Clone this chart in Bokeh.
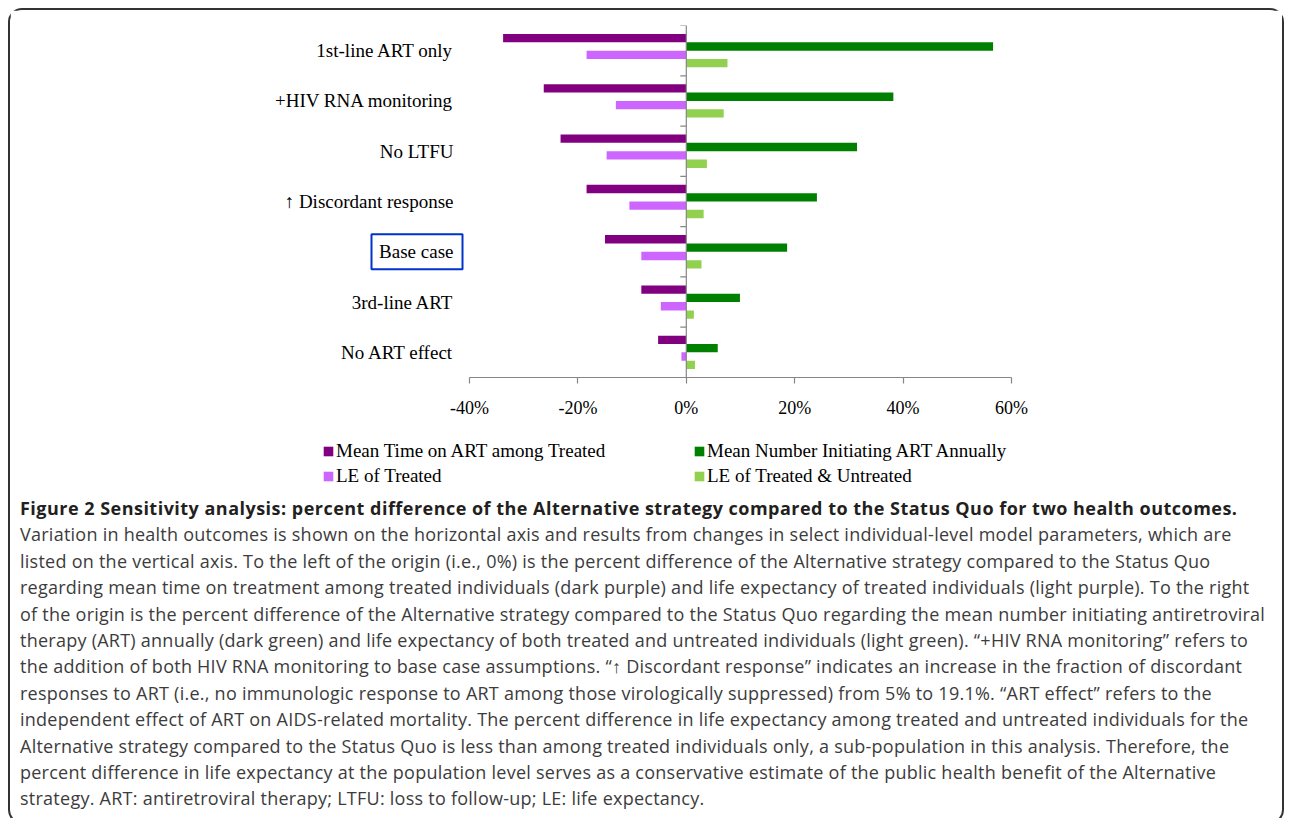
import numpy as np
from bokeh.plotting import figure
from bokeh.models import (FactorRange, Range1d, ColumnDataSource, FixedTicker, PrintfTickFormatter,
                          Span, Legend, LegendItem, BoxAnnotation, Div, Column)
from bokeh.transform import dodge
from bokeh.embed import file_html
from bokeh.resources import INLINE

categories = ["1st-line ART only", "+HIV RNA monitoring", "No LTFU", "\u2191 Discordant response",
              "Base case", "3rd-line ART", "No ART effect"]
mean_time_on_art = [-33.8, -26.3, -23.2, -18.4, -15.0, -8.3, -5.2]
mean_number_initiating = [56.6, 38.2, 31.5, 24.1, 18.6, 9.9, 5.8]
le_treated = [-18.4, -13.0, -14.7, -10.5, -8.3, -4.7, -0.9]
le_treated_untreated = [7.6, 6.9, 3.8, 3.2, 2.8, 1.4, 1.6]
x_ticks = [-40, -20, 0, 20, 40, 60]

series_names = ["Mean Time on ART among Treated", "Mean Number Initiating ART Annually",
                "LE of Treated", "LE of Treated & Untreated"]
colors = ["#800080", "#008000", "#CC66FF", "#92D050"]
value_cols = ["a", "b", "c", "d"]

SERIF = "Liberation Serif"
W = 1272

src = ColumnDataSource(dict(cat=categories, a=mean_time_on_art, b=mean_number_initiating,
                            c=le_treated, d=le_treated_untreated))

# frame spans the full canvas width; the -40%..60% axis sits at canvas x 459..1001
px_per_unit = 542 / (x_ticks[-1] - x_ticks[0])
x_start = x_ticks[0] - 459 / px_per_unit
x_end = x_start + W / px_per_unit

cats_bottom_up = categories[::-1]
p = figure(width=W, height=420, y_range=FactorRange(*cats_bottom_up, range_padding=0),
           x_range=Range1d(x_start, x_end), output_backend="svg", toolbar_location=None,
           min_border_left=0, min_border_right=0, min_border_top=15, min_border_bottom=53)
p.outline_line_color = None
p.xgrid.visible = False
p.ygrid.visible = False
p.background_fill_color = "white"

h = 0.166
offsets = [0.249, 0.083, -0.083, -0.249]
renderers = []
for col, off, color in zip(value_cols, offsets, colors):
    r = p.hbar(y=dodge("cat", off, range=p.y_range), left=0, right=col, height=h, source=src,
               fill_color=color, line_color=None)
    renderers.append(r)

# vertical axis line at origin
p.add_layout(Span(location=0, dimension="height", line_color="#868686", line_width=1.2))
# tick marks on the vertical axis at category boundaries
bounds = list(range(len(categories) + 1))
p.ray(x=[0] * len(bounds), y=bounds, length=6, length_units="screen", angle=np.pi,
      line_color="#868686", line_width=1.2)

# x axis
xa = p.xaxis[0]
xa.bounds = (x_ticks[0], x_ticks[-1])
xa.ticker = FixedTicker(ticks=x_ticks)
xa.formatter = PrintfTickFormatter(format="%d%%")
xa.axis_line_color = "#868686"
xa.axis_line_width = 1.2
xa.major_tick_line_color = "#868686"
xa.major_tick_line_width = 1.2
xa.major_tick_in = 0
xa.major_tick_out = 6
xa.minor_tick_line_color = None
xa.major_label_text_font = SERIF
xa.major_label_text_font_size = "18px"
xa.major_label_text_color = "black"
xa.major_label_standoff = 14

# y axis (labels only, right-aligned just left of the -40% position)
ya = p.yaxis[0]
ya.axis_line_color = None
ya.major_tick_line_color = None
ya.major_tick_in = 0
ya.major_tick_out = 0
ya.minor_tick_line_color = None
ya.major_label_text_font = SERIF
ya.major_label_text_font_size = "19px"
ya.major_label_text_color = "black"
ya.major_label_standoff = -443

# highlight box around "Base case"
base_idx = cats_bottom_up.index("Base case")
p.add_layout(BoxAnnotation(left=361, right=452, left_units="screen", right_units="screen",
                           top=base_idx + 0.5 + 0.348, bottom=base_idx + 0.5 - 0.348,
                           fill_alpha=0, line_color="#0033CC", line_alpha=1, line_width=2,
                           level="overlay"))

# legend strip: key renderers use the same data but lie outside this strip's x range
pl = figure(width=W, height=60, x_range=Range1d(-1000, -999),
            y_range=FactorRange(*cats_bottom_up), output_backend="svg", toolbar_location=None,
            x_axis_location=None, y_axis_location=None, min_border=0)
pl.outline_line_color = None
pl.xgrid.visible = False
pl.ygrid.visible = False
keys = [pl.hbar(y="cat", left=0, right=col, height=0.1, source=src, fill_color=c, line_color=None)
        for col, c in zip(value_cols, colors)]

def make_legend(idx, loc):
    lg = Legend(items=[LegendItem(label=series_names[i], renderers=[keys[i]]) for i in idx],
                location=loc, orientation="vertical", border_line_color=None,
                background_fill_alpha=0, padding=0, margin=0, spacing=0, label_height=25,
                glyph_height=12, glyph_width=12, label_standoff=2,
                label_text_font=SERIF, label_text_font_size="19px", label_text_color="black")
    pl.add_layout(lg)

make_legend([0, 2], (312, 2))
make_legend([1, 3], (683, 2))

caption_title = ("Figure 2 Sensitivity analysis: percent difference of the Alternative strategy "
                 "compared to the Status Quo for two health outcomes.")
caption_lines = [
    "Variation in health outcomes is shown on the horizontal axis and results from changes in select individual-level model parameters, which are",
    "listed on the vertical axis. To the left of the origin (i.e., 0%) is the percent difference of the Alternative strategy compared to the Status Quo",
    "regarding mean time on treatment among treated individuals (dark purple) and life expectancy of treated individuals (light purple). To the right",
    "of the origin is the percent difference of the Alternative strategy compared to the Status Quo regarding the mean number initiating antiretroviral",
    "therapy (ART) annually (dark green) and life expectancy of both treated and untreated individuals (light green). \u201c+HIV RNA monitoring\u201d refers to",
    "the addition of both HIV RNA monitoring to base case assumptions. \u201c\u2191 Discordant response\u201d indicates an increase in the fraction of discordant",
    "responses to ART (i.e., no immunologic response to ART among those virologically suppressed) from 5% to 19.1%. \u201cART effect\u201d refers to the",
    "independent effect of ART on AIDS-related mortality. The percent difference in life expectancy among treated and untreated individuals for the",
    "Alternative strategy compared to the Status Quo is less than among treated individuals only, a sub-population in this analysis. Therefore, the",
    "percent difference in life expectancy at the population level serves as a conservative estimate of the public health benefit of the Alternative",
    "strategy. ART: antiretroviral therapy; LTFU: loss to follow-up; LE: life expectancy.",
]
html = ('<div style="font-family:\'Open Sans\';font-size:18px;line-height:26.4px;color:#3c3c3c;'
        'white-space:nowrap;padding:0 0 0 5px;letter-spacing:0.25px;">'
        '<span style="font-weight:bold;color:#231f20;letter-spacing:0.48px;">' + caption_title + '</span><br>'
        + "<br>".join(caption_lines) + '</div>')
div = Div(text=html, width=1262, height=322)

layout = Column(children=[p, pl, div], margin=(8, 0, 0, 8),
                styles={"border": "2px solid #333333", "border-radius": "14px"})

open("out.html", "w").write(file_html(layout, INLINE))
